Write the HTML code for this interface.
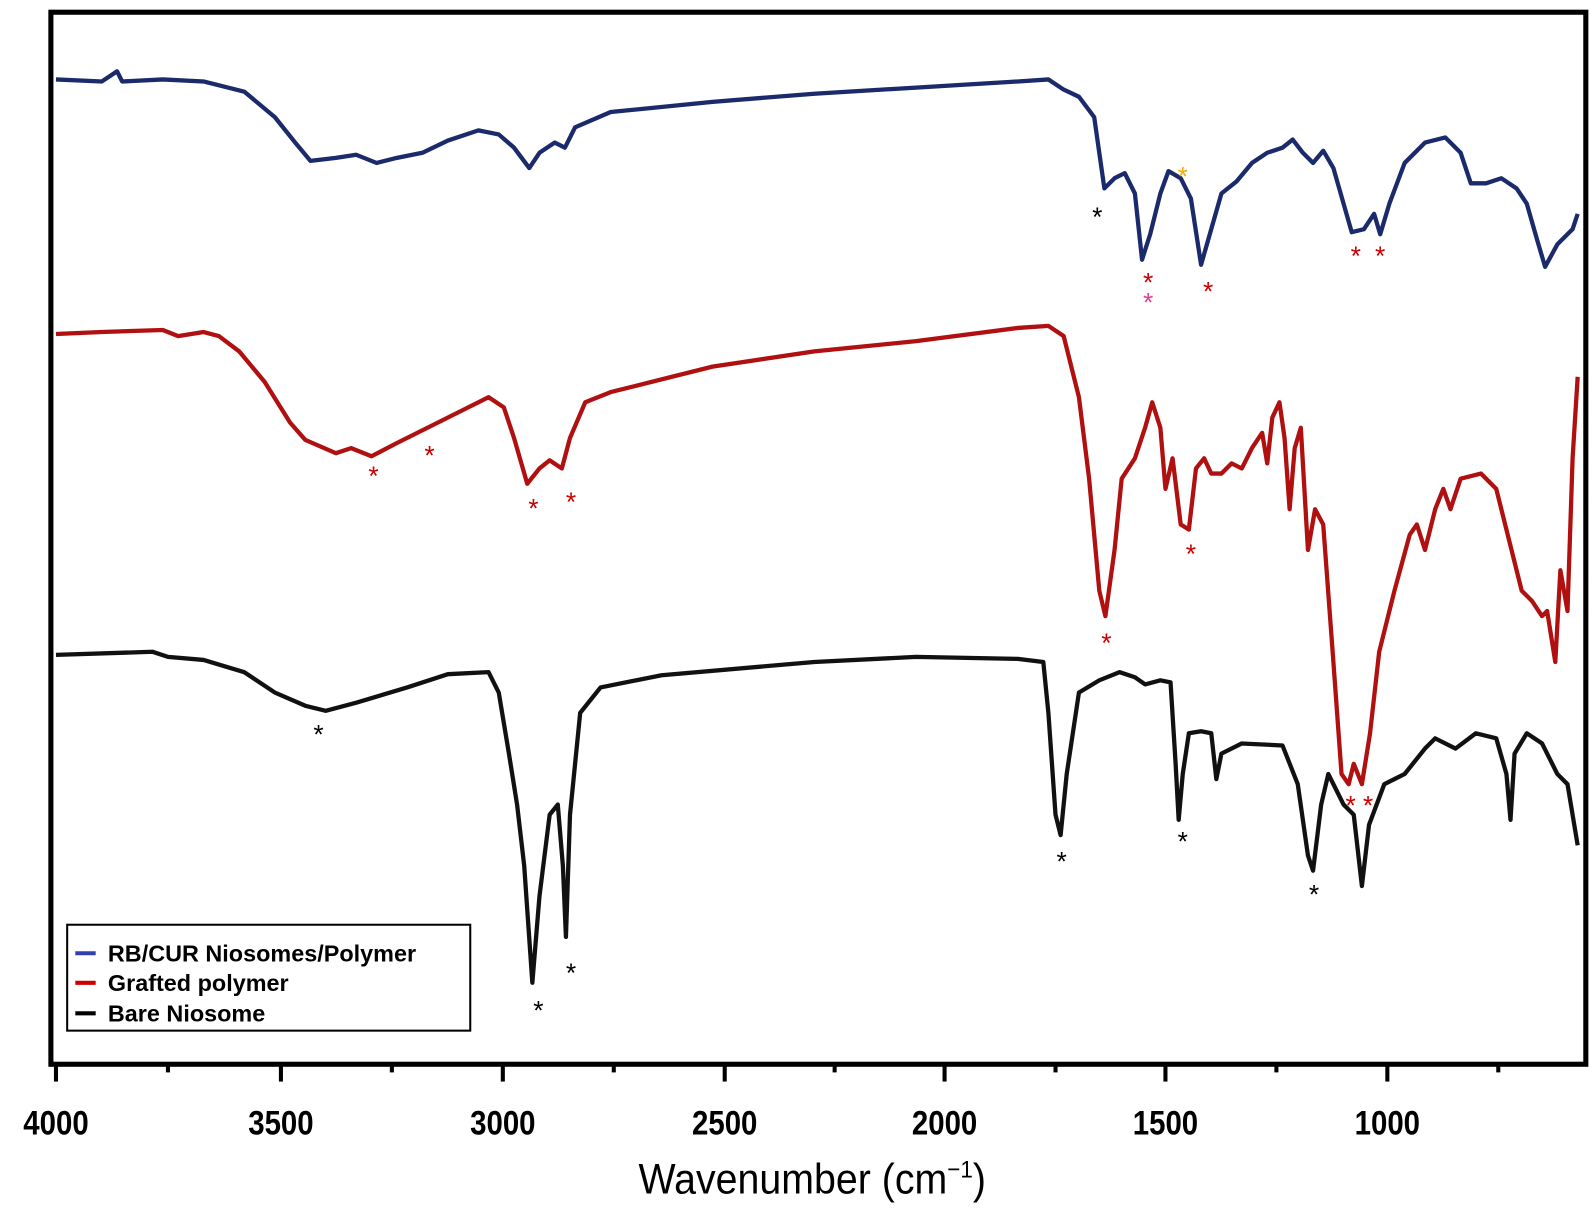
<!DOCTYPE html>
<html><head><meta charset="utf-8"><style>html,body{margin:0;padding:0;background:#fff}svg{display:block}</style></head>
<body>
<svg width="1596" height="1216" viewBox="0 0 1568 1194" preserveAspectRatio="none" xmlns="http://www.w3.org/2000/svg" font-family="Liberation Sans, sans-serif">
<rect x="0" y="0" width="1568" height="1194" fill="#fff"/>
<rect x="50" y="12" width="1508" height="1033" fill="none" stroke="#000" stroke-width="5"/>
<g stroke="#000" stroke-width="4">
<line x1="55" y1="1045" x2="55" y2="1062"/><line x1="276" y1="1045" x2="276" y2="1062"/><line x1="494" y1="1045" x2="494" y2="1062"/><line x1="712" y1="1045" x2="712" y2="1062"/><line x1="928" y1="1045" x2="928" y2="1062"/><line x1="1145" y1="1045" x2="1145" y2="1062"/><line x1="1363" y1="1045" x2="1363" y2="1062"/>
<line x1="165" y1="1045" x2="165" y2="1053"/><line x1="385" y1="1045" x2="385" y2="1053"/><line x1="603" y1="1045" x2="603" y2="1053"/><line x1="820" y1="1045" x2="820" y2="1053"/><line x1="1037" y1="1045" x2="1037" y2="1053"/><line x1="1254" y1="1045" x2="1254" y2="1053"/><line x1="1472" y1="1045" x2="1472" y2="1053"/>
</g>
<g font-size="34" font-weight="bold" text-anchor="middle" fill="#000">
<text transform="translate(55,1114) scale(0.85,1)">4000</text><text transform="translate(276,1114) scale(0.85,1)">3500</text><text transform="translate(494,1114) scale(0.85,1)">3000</text><text transform="translate(712,1114) scale(0.85,1)">2500</text><text transform="translate(928,1114) scale(0.85,1)">2000</text><text transform="translate(1145,1114) scale(0.85,1)">1500</text><text transform="translate(1363,1114) scale(0.85,1)">1000</text>
</g>
<text transform="translate(798,1172) scale(0.92,1)" font-size="42" text-anchor="middle" fill="#000">Wavenumber (cm<tspan font-size="24" dy="-16">−1</tspan><tspan dy="16">)</tspan></text>
<g fill="none" stroke-width="4.2" stroke-linejoin="round">
<polyline stroke="#1a2a6a" points="55,78 100,80 115,70 120,80 160,78 200,80 240,90 270,115 290,140 305,158 330,155 350,152 370,160 390,155 415,150 440,138 470,128 490,132 505,145 520,165 530,150 545,140 555,145 565,125 600,110 700,100 800,92 900,86 1000,80 1030,78 1045,88 1060,95 1075,115 1080,150 1085,185 1095,175 1105,170 1115,190 1122,255 1130,230 1140,190 1148,168 1160,175 1170,195 1180,260 1190,225 1200,190 1215,178 1230,160 1245,150 1260,145 1270,137 1280,150 1290,160 1300,148 1310,165 1320,200 1328,228 1340,225 1350,210 1356,230 1365,200 1380,160 1400,140 1420,135 1435,150 1445,180 1460,180 1475,175 1490,185 1500,200 1510,235 1518,262 1530,240 1545,225 1550,210"/>
<polyline stroke="#b01010" points="55,328 100,326 160,324 175,330 200,326 215,330 235,345 260,375 285,415 300,432 330,445 345,440 365,448 390,435 420,420 460,400 480,390 495,400 505,430 518,475 530,460 540,452 552,460 560,430 575,395 600,385 700,360 800,345 900,335 1000,322 1030,320 1045,330 1060,390 1070,470 1080,580 1086,605 1095,540 1102,470 1115,450 1125,420 1132,395 1140,420 1145,480 1152,450 1160,515 1168,520 1175,460 1183,450 1190,465 1200,465 1210,455 1220,460 1230,440 1240,425 1245,455 1250,410 1257,395 1262,430 1267,500 1272,440 1278,420 1285,540 1292,500 1300,515 1310,650 1318,760 1325,770 1330,750 1338,770 1346,720 1355,640 1370,580 1385,525 1392,515 1400,540 1410,500 1418,480 1425,500 1435,470 1455,465 1470,480 1480,520 1495,580 1505,590 1515,605 1520,600 1528,650 1533,560 1540,600 1545,450 1550,370"/>
<polyline stroke="#111" points="55,643 150,640 165,645 200,648 240,660 270,680 300,693 320,698 350,690 400,675 440,662 480,660 490,680 500,740 508,790 515,850 523,965 530,880 540,800 548,790 553,850 556,920 560,800 570,700 590,675 650,663 800,650 900,645 1000,647 1025,650 1030,700 1037,800 1042,820 1048,760 1060,680 1080,668 1100,660 1115,665 1125,672 1140,668 1150,670 1155,750 1158,805 1162,760 1168,720 1180,718 1190,720 1195,765 1200,740 1220,730 1260,732 1275,770 1285,840 1290,855 1298,790 1305,760 1320,790 1330,800 1338,870 1345,810 1360,770 1380,760 1400,735 1410,725 1430,735 1450,720 1470,725 1480,760 1484,805 1488,740 1500,720 1515,730 1530,760 1540,770 1550,830"/>
</g>
<g font-size="26" text-anchor="middle">
<text x="1078" y="222" fill="#000">*</text>
<text x="1162" y="182" fill="#f0b000">*</text>
<text x="1128" y="286" fill="#c00">*</text>
<text x="1128" y="306" fill="#e0409a">*</text>
<text x="1187" y="295" fill="#c00">*</text>
<text x="1332" y="260" fill="#c00">*</text>
<text x="1356" y="260" fill="#c00">*</text>
<text x="367" y="476" fill="#c00">*</text>
<text x="422" y="456" fill="#c00">*</text>
<text x="524" y="508" fill="#c00">*</text>
<text x="561" y="502" fill="#c00">*</text>
<text x="1170" y="553" fill="#c00">*</text>
<text x="1087" y="640" fill="#c00">*</text>
<text x="1327" y="800" fill="#c00">*</text>
<text x="1344" y="800" fill="#c00">*</text>
<text x="313" y="730" fill="#000">*</text>
<text x="1043" y="855" fill="#000">*</text>
<text x="1162" y="835" fill="#000">*</text>
<text x="1291" y="887" fill="#000">*</text>
<text x="529" y="1001" fill="#000">*</text>
<text x="561" y="964" fill="#000">*</text>
</g>
<rect x="66" y="908" width="396" height="104" fill="#fff" stroke="#000" stroke-width="2"/>
<g stroke-width="4"><line x1="74" y1="936" x2="94" y2="936" stroke="#3040b0"/><line x1="74" y1="965" x2="94" y2="965" stroke="#c00"/><line x1="74" y1="995" x2="94" y2="995" stroke="#000"/></g>
<g font-size="23" font-weight="bold" fill="#000">
<text x="106" y="944">RB/CUR Niosomes/Polymer</text>
<text x="106" y="973">Grafted polymer</text>
<text x="106" y="1003">Bare Niosome</text>
</g>
</svg>
</body></html>
